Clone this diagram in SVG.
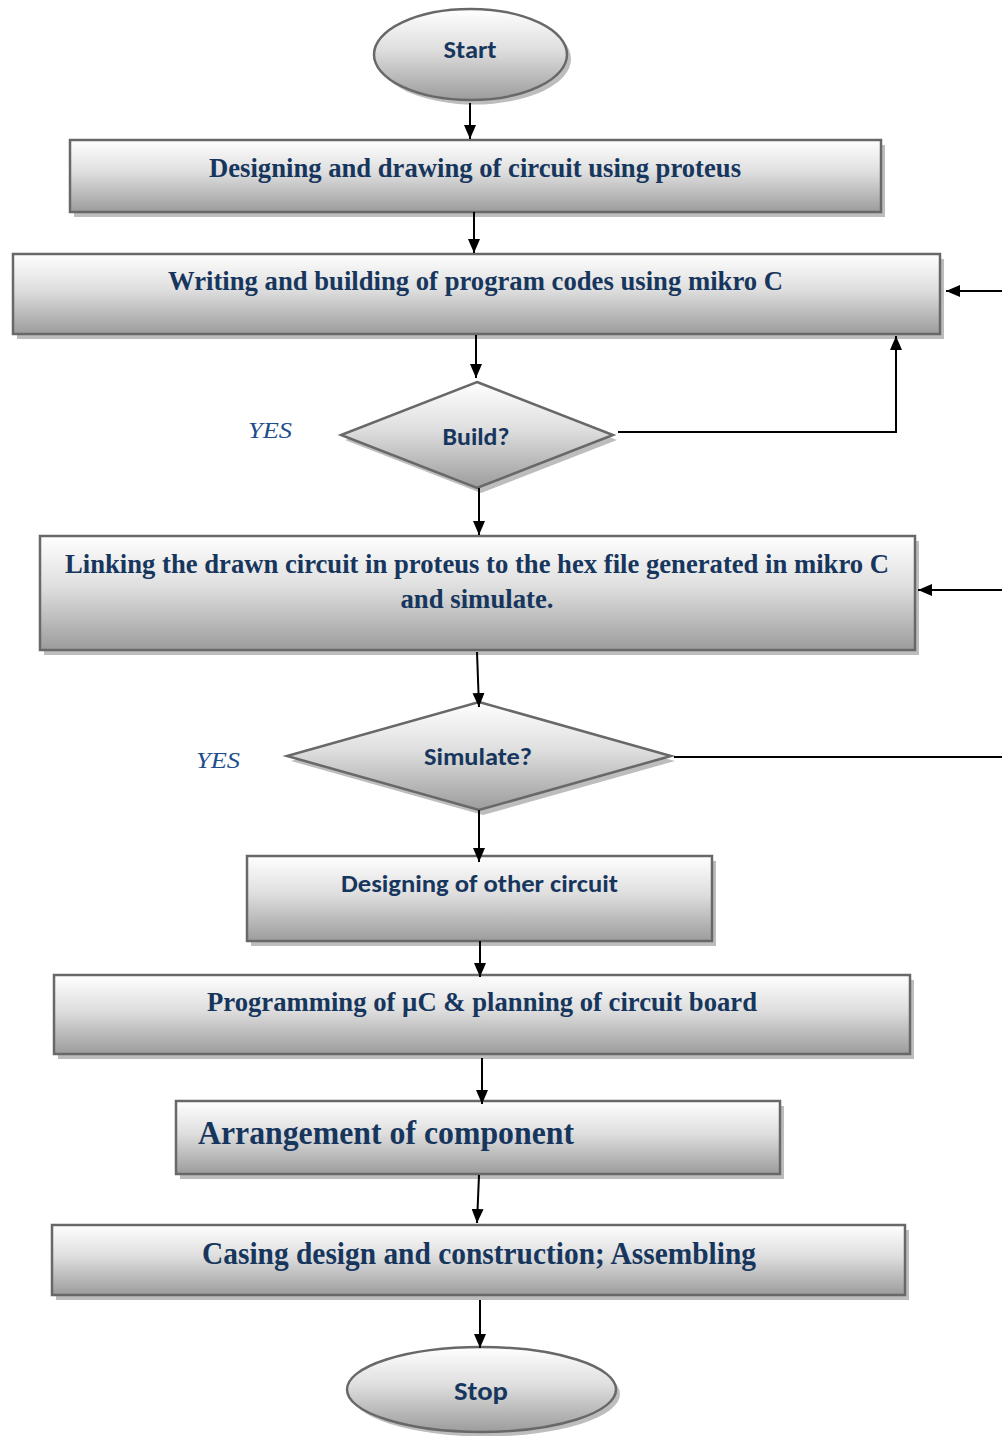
<svg xmlns="http://www.w3.org/2000/svg" width="1002" height="1436" viewBox="0 0 1002 1436">
<defs>
<linearGradient id="g" x1="0" y1="0" x2="0" y2="1">
<stop offset="0" stop-color="#ffffff"/>
<stop offset="0.45" stop-color="#dedede"/>
<stop offset="1" stop-color="#9c9c9c"/>
</linearGradient>
<marker id="ah" viewBox="0 0 14 12" refX="14" refY="6" markerWidth="14" markerHeight="12" markerUnits="userSpaceOnUse" orient="auto">
<path d="M0,0 L14,6 L0,12 Z" fill="#000"/>
</marker>
<style>
.sh{fill:#bdbdbd;stroke:none}
.nd{fill:url(#g);stroke:#686868;stroke-width:2.5}
.tr{font-family:"Liberation Serif","Times New Roman",serif;font-weight:bold;fill:#17365d;text-anchor:middle}
.ts{font-family:Carlito,Roboto,"Noto Sans",sans-serif;font-weight:bold;fill:#17365d;text-anchor:middle}
.yes{font-family:"Liberation Serif",serif;font-style:italic;fill:#1f4e8c;font-size:24px}
.c{fill:none;stroke:#000;stroke-width:2}
.ca{fill:none;stroke:#000;stroke-width:2;marker-end:url(#ah)}
</style>
</defs>
<rect width="1002" height="1436" fill="#fff"/>

<g id="start">
<ellipse class="sh" cx="474.5" cy="59" rx="96.5" ry="45.5"/>
<ellipse class="nd" cx="470.5" cy="54.5" rx="96.5" ry="45.5"/>
<text class="ts" x="470" y="58" font-size="24" textLength="53" lengthAdjust="spacingAndGlyphs">Start</text>
</g>

<g id="box1">
<rect class="sh" x="74" y="145" width="811" height="72"/>
<rect class="nd" x="70" y="140" width="811" height="72"/>
<text class="tr" x="475" y="177" font-size="27" textLength="532" lengthAdjust="spacingAndGlyphs">Designing and drawing of circuit using proteus</text>
</g>

<g id="box2">
<rect class="sh" x="17" y="259" width="927" height="80"/>
<rect class="nd" x="13" y="254" width="927" height="80"/>
<text class="tr" x="475.5" y="290" font-size="27" textLength="615" lengthAdjust="spacingAndGlyphs">Writing and building of program codes using mikro C</text>
</g>

<g id="build">
<polygon class="sh" points="481,387 617,440 481,493 345,440"/>
<polygon class="nd" points="477,382 613,435 477,488 341,435"/>
<text class="ts" x="476" y="445" font-size="24" textLength="67" lengthAdjust="spacingAndGlyphs">Build?</text>
</g>
<text class="yes" x="248" y="438" textLength="44" lengthAdjust="spacingAndGlyphs">YES</text>

<g id="box3">
<rect class="sh" x="44" y="541" width="875" height="114"/>
<rect class="nd" x="40" y="536" width="875" height="114"/>
<text class="tr" x="477" y="573" font-size="27" textLength="824" lengthAdjust="spacingAndGlyphs">Linking the drawn circuit in proteus to the hex file generated in mikro C</text>
<text class="tr" x="477" y="608" font-size="27" textLength="153" lengthAdjust="spacingAndGlyphs">and simulate.</text>
</g>

<g id="simulate">
<polygon class="sh" points="483,707 675,761 483,815 291,761"/>
<polygon class="nd" points="479,702 671,756 479,810 287,756"/>
<text class="ts" x="478" y="765" font-size="24" textLength="108" lengthAdjust="spacingAndGlyphs">Simulate?</text>
</g>
<text class="yes" x="196" y="768" textLength="44" lengthAdjust="spacingAndGlyphs">YES</text>

<g id="box4">
<rect class="sh" x="251" y="861" width="465" height="85"/>
<rect class="nd" x="247" y="856" width="465" height="85"/>
<text class="ts" x="479.5" y="892" font-size="25" textLength="277" lengthAdjust="spacingAndGlyphs">Designing of other circuit</text>
</g>

<g id="box5">
<rect class="sh" x="58" y="980" width="856" height="79"/>
<rect class="nd" x="54" y="975" width="856" height="79"/>
<text class="tr" x="482" y="1011" font-size="27" textLength="550" lengthAdjust="spacingAndGlyphs">Programming of µC &amp; planning of circuit board</text>
</g>

<g id="box6">
<rect class="sh" x="180" y="1106" width="604" height="73"/>
<rect class="nd" x="176" y="1101" width="604" height="73"/>
<text class="tr" x="198" y="1144" font-size="33" style="text-anchor:start" textLength="376" lengthAdjust="spacingAndGlyphs">Arrangement of component</text>
</g>

<g id="box7">
<rect class="sh" x="56" y="1230" width="853" height="70"/>
<rect class="nd" x="52" y="1225" width="853" height="70"/>
<text class="tr" x="479" y="1264" font-size="31" textLength="554" lengthAdjust="spacingAndGlyphs">Casing design and construction; Assembling</text>
</g>

<g id="stop">
<ellipse class="sh" cx="485.5" cy="1394" rx="134.5" ry="42.5"/>
<ellipse class="nd" cx="481.5" cy="1389.5" rx="134.5" ry="42.5"/>
<text class="ts" x="481" y="1400" font-size="27" textLength="54" lengthAdjust="spacingAndGlyphs">Stop</text>
</g>

<g id="connectors">
<line class="ca" x1="470" y1="103" x2="470" y2="139"/>
<line class="ca" x1="474" y1="212" x2="474" y2="253"/>
<line class="ca" x1="476" y1="335" x2="476" y2="378"/>
<polyline class="ca" points="618,432 896,432 896,336"/>
<line class="ca" x1="1002" y1="291" x2="946" y2="291"/>
<line class="ca" x1="479" y1="488" x2="479" y2="535"/>
<line class="ca" x1="1002" y1="590" x2="918" y2="590"/>
<line class="ca" x1="477" y1="652" x2="479" y2="707"/>
<line class="c" x1="674" y1="757" x2="1002" y2="757"/>
<line class="ca" x1="479" y1="810" x2="479" y2="862"/>
<line class="ca" x1="480" y1="941" x2="480" y2="977"/>
<line class="ca" x1="482" y1="1058" x2="482" y2="1104"/>
<line class="ca" x1="479" y1="1175" x2="477" y2="1223"/>
<line class="ca" x1="480" y1="1300" x2="480" y2="1348"/>
</g>
</svg>
